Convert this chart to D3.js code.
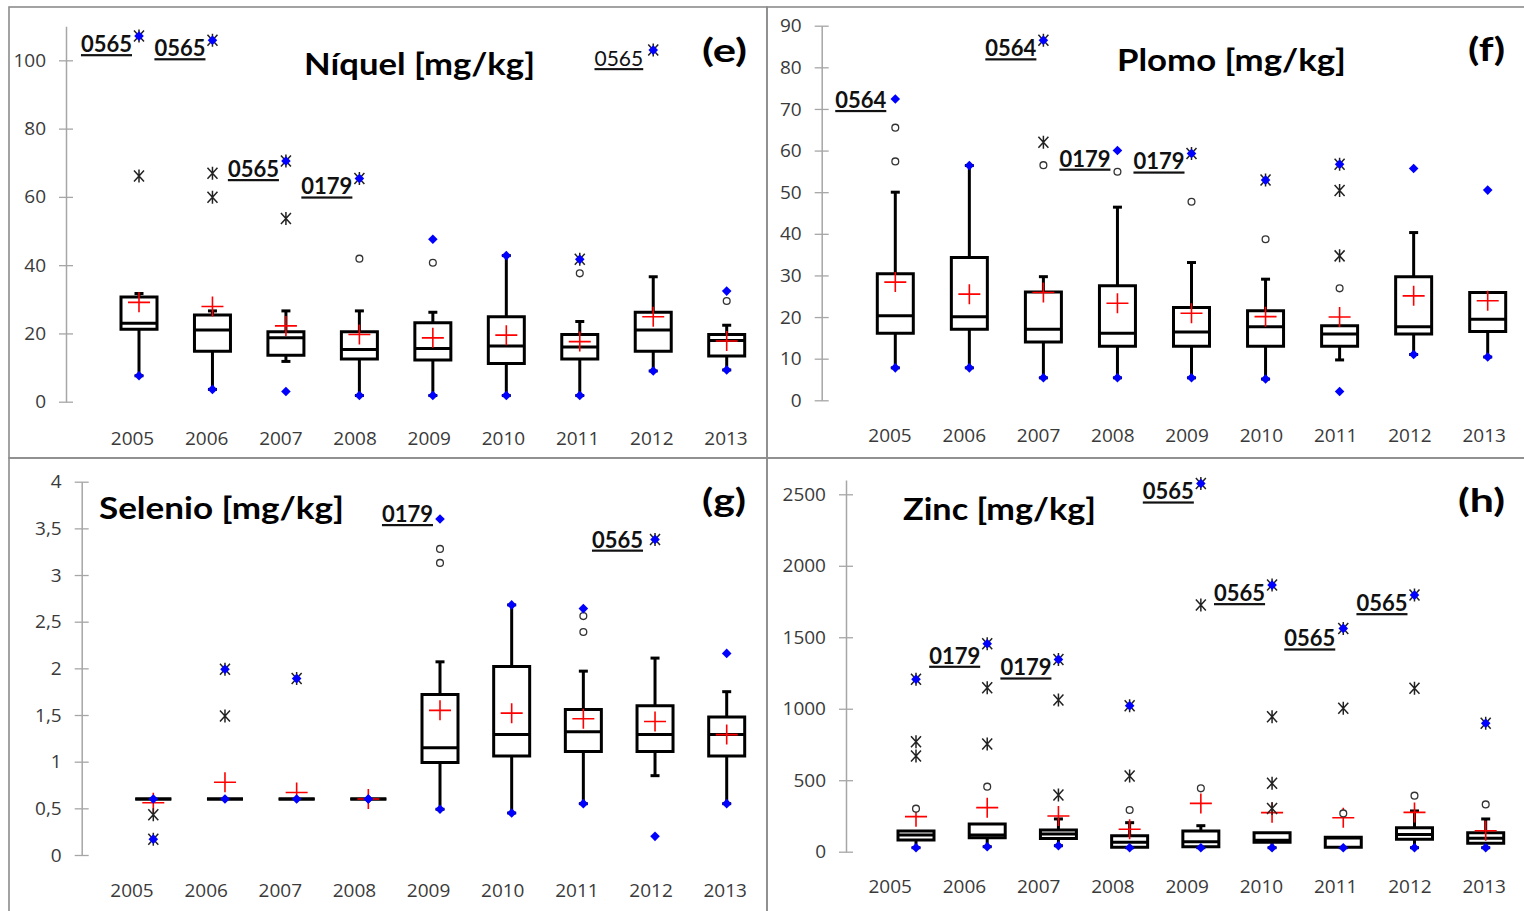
<!DOCTYPE html>
<html>
<head>
<meta charset="utf-8">
<script src="https://cdn.jsdelivr.net/npm/d3@7"></script>
<style>
  body { margin: 0; background: #fff; }
  svg { display: block; }
</style>
</head>
<body>
<svg id="chart" width="1524" height="911"></svg>
<script>
const years = ["2005", "2006", "2007", "2008", "2009", "2010", "2011", "2012", "2013"];

// (e) Níquel
const niqTicks = [0, 20, 40, 60, 80, 100];
const niqQ1 = [21.2, 14.8, 13.6, 12.5, 12.2, 11.2, 12.5, 14.8, 13.4];
const niqMed = [23.0, 21.0, 18.7, 15.3, 15.6, 16.3, 16.0, 21.0, 17.9];
const niqQ3 = [30.7, 25.4, 20.5, 20.5, 23.1, 24.9, 19.7, 26.2, 19.7];
const niqLo = [7.6, 3.6, 11.8, 1.8, 1.8, 1.8, 1.8, 9.0, 9.3];
const niqHi = [31.7, 26.6, 26.6, 26.6, 26.2, 42.8, 23.5, 36.6, 22.4];
const niqMean = [29.1, 27.9, 22.2, 19.7, 18.7, 19.5, 17.6, 24.9, 17.8];
const niqMin = [7.6, 3.6, 3.0, 1.8, 1.8, 1.8, 1.8, 9.0, 9.3];
const niqMax = [107.1, 105.9, 70.5, 65.4, 47.6, 42.8, 41.7, 103, 32.4];
const niqCircles = [["2008", 41.9], ["2009", 40.7], ["2011", 37.6], ["2013", 29.5]];
const niqStars = [["2005", 66.1], ["2005", 107.1], ["2006", 66.9], ["2006", 59.9], ["2006", 105.9],
  ["2007", 53.7], ["2007", 70.5], ["2008", 65.4], ["2011", 41.7], ["2012", 103]];
const niqLabels = [["2005", "0565"], ["2006", "0565"], ["2007", "0565"], ["2008", "0179"], ["2012", "0565"]];

// (f) Plomo
const plTicks = [0, 10, 20, 30, 40, 50, 60, 70, 80, 90];
const plQ1 = [16.1, 17.1, 14.0, 13.0, 13.0, 13.0, 13.0, 15.9, 16.5];
const plMed = [20.3, 20.1, 17.1, 16.1, 16.4, 17.7, 15.9, 17.7, 19.5];
const plQ3 = [30.4, 34.3, 26.0, 27.5, 22.3, 21.5, 17.9, 29.7, 25.9];
const plLo = [7.8, 7.8, 5.4, 5.4, 5.4, 5.1, 9.7, 11.0, 10.4];
const plHi = [50.0, 56.4, 29.7, 46.4, 33.1, 29.1, 17.9, 40.3, 25.9];
const plMean = [28.4, 25.5, 25.9, 23.3, 20.9, 20.1, 20.0, 25.1, 23.9];
const plMin = [7.8, 7.8, 5.4, 5.4, 5.4, 5.1, 2.1, 11.0, 10.4];
const plMax = [72.4, 56.4, 86.5, 60.0, 59.3, 52.9, 56.7, 55.7, 50.5];
const plCircles = [["2005", 65.5], ["2005", 57.4], ["2007", 56.5], ["2008", 54.9], ["2009", 47.7],
  ["2010", 38.7], ["2011", 26.9]];
const plStars = [["2007", 62.0], ["2007", 86.5], ["2009", 59.3], ["2010", 52.9], ["2011", 34.7],
  ["2011", 50.4], ["2011", 56.7]];
const plLabels = [["2005", "0564"], ["2007", "0564"], ["2008", "0179"], ["2009", "0179"]];

// (g) Selenio
const seTicks = [0, 0.5, 1, 1.5, 2, 2.5, 3, 3.5, 4];
const seQ1 = [0.6, 0.6, 0.6, 0.6, 0.99, 1.06, 1.11, 1.11, 1.06];
const seMed = [0.6, 0.6, 0.6, 0.6, 1.15, 1.29, 1.32, 1.29, 1.29];
const seQ3 = [0.6, 0.6, 0.6, 0.6, 1.72, 2.02, 1.56, 1.60, 1.48];
const seLo = [0.6, 0.6, 0.6, 0.6, 0.49, 0.45, 0.55, 0.85, 0.55];
const seHi = [0.6, 0.6, 0.6, 0.6, 2.07, 2.68, 1.97, 2.11, 1.75];
const seMean = [0.56, 0.78, 0.67, 0.6, 1.55, 1.52, 1.46, 1.43, 1.29];
const seMin = [0.17, 0.6, 0.6, 0.6, 0.49, 0.45, 0.55, 0.20, 0.55];
const seMax = [0.6, 1.99, 1.89, 0.6, 3.60, 2.68, 2.64, 3.38, 2.16];
const seCircles = [["2009", 3.28], ["2009", 3.13], ["2011", 2.56], ["2011", 2.39]];
const seStars = [["2005", 0.43], ["2005", 0.17], ["2006", 1.49], ["2006", 1.99], ["2007", 1.89], ["2012", 3.38]];
const seLabels = [["2009", "0179"], ["2012", "0565"]];

// (h) Zinc
const znTicks = [0, 500, 1000, 1500, 2000, 2500];
const znQ1 = [82, 98, 93, 31, 35, 66, 31, 87, 59];
const znMed = [117, 117, 124, 66, 70, 80, 95, 120, 94];
const znQ3 = [145, 194, 152, 112, 145, 133, 101, 168, 133];
const znLo = [28, 35, 42, 28, 28, 28, 28, 28, 28];
const znHi = [145, 194, 229, 203, 182, 133, 101, 285, 229];
const znMean = [245, 308, 250, 157, 338, 273, 238, 275, 147];
const znMin = [28, 35, 42, 28, 28, 28, 28, 28, 28];
const znMax = [1206, 1455, 1345, 1021, 2576, 1865, 1562, 1795, 898];
const znCircles = [["2005", 301], ["2006", 455], ["2008", 292], ["2009", 443], ["2011", 268],
  ["2012", 392], ["2013", 331]];
const znStars = [["2005", 769], ["2005", 669], ["2005", 1206], ["2006", 753], ["2006", 1147], ["2006", 1455],
  ["2007", 396], ["2007", 1061], ["2007", 1345], ["2008", 529], ["2008", 1021], ["2009", 1725], ["2009", 2576],
  ["2010", 303], ["2010", 478], ["2010", 944], ["2010", 1865], ["2011", 1003], ["2011", 1562],
  ["2012", 1143], ["2012", 1795], ["2013", 898]];
const znLabels = [["2006", "0179"], ["2007", "0179"], ["2009", "0565"], ["2010", "0565"], ["2011", "0565"], ["2012", "0565"]];

const comma = v => String(v).replace(".", ",");

const panels = [
  { key: "e", title: "Níquel [mg/kg]", tag: "(e)", ticks: niqTicks, yMax: 110, fmt: String,
    q1: niqQ1, med: niqMed, q3: niqQ3, lo: niqLo, hi: niqHi, mean: niqMean, min: niqMin, max: niqMax,
    circles: niqCircles, stars: niqStars, labels: niqLabels,
    frame: [9, 7, 758, 451], axisX: 66, yRange: [401.7, 26.2], box: [139, 726.7], cat: [132, 725.5], catY: 445,
    titlePos: [304, 75, 231], tagPos: [747, 62, 45] },
  { key: "f", title: "Plomo [mg/kg]", tag: "(f)", ticks: plTicks, yMax: 90, fmt: String,
    q1: plQ1, med: plMed, q3: plQ3, lo: plLo, hi: plHi, mean: plMean, min: plMin, max: plMax,
    circles: plCircles, stars: plStars, labels: plLabels,
    frame: [767, 7, 770, 451], axisX: 821.7, yRange: [400.3, 25.7], box: [895.3, 1487.7], cat: [889.5, 1483.7], catY: 441.7,
    titlePos: [1117, 71, 229], tagPos: [1505, 61, 37] },
  { key: "g", title: "Selenio [mg/kg]", tag: "(g)", ticks: seTicks, yMax: 4, fmt: comma,
    q1: seQ1, med: seMed, q3: seQ3, lo: seLo, hi: seHi, mean: seMean, min: seMin, max: seMax,
    circles: seCircles, stars: seStars, labels: seLabels,
    frame: [9, 458, 758, 470], axisX: 81.7, yRange: [855, 481.7], box: [153.3, 726.7], cat: [131.5, 724.7], catY: 896.7,
    titlePos: [99, 519, 245], tagPos: [746, 512, 44] },
  { key: "h", title: "Zinc [mg/kg]", tag: "(h)", ticks: znTicks, yMax: 2600, fmt: String,
    q1: znQ1, med: znMed, q3: znQ3, lo: znLo, hi: znHi, mean: znMean, min: znMin, max: znMax,
    circles: znCircles, stars: znStars, labels: znLabels,
    frame: [767, 458, 770, 470], axisX: 846, yRange: [851.7, 480.0], box: [916, 1485.7], cat: [889.7, 1483.7], catY: 893.3,
    titlePos: [903, 520, 193], tagPos: [1505, 512, 47] }
];

// label placement tweaks (relative to the marked point)
const labelNudge = { "f-2005": [-9, 9], "g-2009": [-7, 3], "g-2012": [-12, 8], "e-2012": [-10, 16], "h-2006": [-7, 20], "h-2011": [-8, 18] };
const plainLabels = new Set(["e-2012"]);

const svg = d3.select("#chart");

const starPath = "M0,-6.5V6.5M-5,-5.5L5,5.5M-5,5.5L5,-5.5";
const diamondPath = "M0,-4.8L4.8,0L0,4.8L-4.8,0Z";
const boxW = 36, capW = 9;

panels.forEach(p => {
  const g = svg.append("g").attr("class", "panel-" + p.key);

  g.append("rect")
    .attr("x", p.frame[0]).attr("y", p.frame[1])
    .attr("width", p.frame[2]).attr("height", p.frame[3])
    .attr("fill", "none").attr("stroke", "#8c8c8c").attr("stroke-width", 1.6);

  const y = d3.scaleLinear().domain([0, p.yMax]).range(p.yRange);
  const xBox = d3.scalePoint().domain(years).range(p.box);
  const xCat = d3.scalePoint().domain(years).range(p.cat);

  // y axis with cross ticks
  const yAxis = g.append("g")
    .attr("transform", `translate(${p.axisX},0)`)
    .call(d3.axisLeft(y).tickValues(p.ticks).tickFormat(p.fmt).tickSize(7).tickSizeOuter(0).tickPadding(13));
  yAxis.select(".domain").attr("stroke", "#a6a6a6").attr("stroke-width", 1.5);
  yAxis.selectAll(".tick line").attr("x1", 7).attr("stroke", "#a6a6a6").attr("stroke-width", 1.3);
  yAxis.selectAll(".tick text")
    .attr("font-family", "'Open Sans', sans-serif").attr("font-size", 19).attr("fill", "#3a3a3a");

  // category axis (labels only)
  const xAxis = g.append("g")
    .attr("transform", `translate(0,${p.catY})`)
    .call(d3.axisBottom(xCat).tickSize(0).tickPadding(0));
  xAxis.select(".domain").remove();
  xAxis.selectAll(".tick text")
    .attr("y", 0).attr("dy", 0)
    .attr("font-family", "'Open Sans', sans-serif").attr("font-size", 19).attr("fill", "#3a3a3a");

  const rows = years.map((yr, i) => ({ yr, q1: p.q1[i], med: p.med[i], q3: p.q3[i], lo: p.lo[i], hi: p.hi[i],
    mean: p.mean[i], min: p.min[i], max: p.max[i] }));

  const marks = g.append("g");

  // whiskers
  rows.forEach(r => {
    const cx = xBox(r.yr);
    if (r.lo < r.q1) {
      marks.append("line").attr("x1", cx).attr("x2", cx).attr("y1", y(r.q1)).attr("y2", y(r.lo))
        .attr("stroke", "#000").attr("stroke-width", 3);
      marks.append("line").attr("x1", cx - capW / 2).attr("x2", cx + capW / 2).attr("y1", y(r.lo)).attr("y2", y(r.lo))
        .attr("stroke", "#000").attr("stroke-width", 3);
    }
    if (r.hi > r.q3) {
      marks.append("line").attr("x1", cx).attr("x2", cx).attr("y1", y(r.q3)).attr("y2", y(r.hi))
        .attr("stroke", "#000").attr("stroke-width", 3);
      marks.append("line").attr("x1", cx - capW / 2).attr("x2", cx + capW / 2).attr("y1", y(r.hi)).attr("y2", y(r.hi))
        .attr("stroke", "#000").attr("stroke-width", 3);
    }
  });

  // boxes
  marks.selectAll("path.box").data(rows).join("path")
    .attr("class", "box")
    .attr("d", r => {
      const x0 = xBox(r.yr) - boxW / 2, x1 = xBox(r.yr) + boxW / 2;
      return `M${x0},${y(r.q3)}H${x1}V${y(r.q1)}H${x0}Z`;
    })
    .attr("fill", "#fff").attr("stroke", "#000").attr("stroke-width", 3).attr("stroke-linejoin", "miter");

  marks.selectAll("line.median").data(rows).join("line")
    .attr("class", "median")
    .attr("x1", r => xBox(r.yr) - boxW / 2).attr("x2", r => xBox(r.yr) + boxW / 2)
    .attr("y1", r => y(r.med)).attr("y2", r => y(r.med))
    .attr("stroke", "#000").attr("stroke-width", 3);

  // means
  marks.selectAll("path.mean").data(rows).join("path")
    .attr("class", "mean")
    .attr("transform", r => `translate(${xBox(r.yr)},${y(r.mean)})`)
    .attr("d", "M-11,0H11M0,-10V10")
    .attr("stroke", "#ff0000").attr("stroke-width", 1.6).attr("fill", "none");

  // mild outliers
  marks.selectAll("circle.out").data(p.circles).join("circle")
    .attr("class", "out")
    .attr("cx", d => xBox(d[0])).attr("cy", d => y(d[1])).attr("r", 3.4)
    .attr("fill", "#fff").attr("stroke", "#333").attr("stroke-width", 1.3);

  // extreme outliers
  marks.selectAll("path.star").data(p.stars).join("path")
    .attr("class", "star")
    .attr("transform", d => `translate(${xBox(d[0])},${y(d[1])})`)
    .attr("d", starPath)
    .attr("stroke", "#222").attr("stroke-width", 1.5).attr("fill", "none");

  // min / max
  const extremes = rows.flatMap(r => [[r.yr, r.min], [r.yr, r.max]]);
  marks.selectAll("path.mm").data(extremes).join("path")
    .attr("class", "mm")
    .attr("transform", d => `translate(${xBox(d[0])},${y(d[1])})`)
    .attr("d", diamondPath)
    .attr("fill", "#0000ff");

  // sample id labels on the maxima
  marks.selectAll("text.id").data(p.labels).join("text")
    .attr("class", "id")
    .each(function (d) {
      const k = p.key + "-" + d[0];
      const n = labelNudge[k] || [-7, 16];
      const i = years.indexOf(d[0]);
      d3.select(this)
        .attr("x", xBox(d[0]) + n[0])
        .attr("y", y(p.max[i]) + n[1])
        .attr("font-weight", plainLabels.has(k) ? 400 : 700)
        .attr("font-size", plainLabels.has(k) ? 21 : 22);
    })
    .attr("text-anchor", "end")
    .attr("font-family", "Lato, sans-serif")
    .attr("text-decoration", "underline")
    .attr("fill", "#111")
    .text(d => d[1]);

  // title and panel tag
  g.append("text")
    .attr("x", p.titlePos[0]).attr("y", p.titlePos[1])
    .attr("textLength", p.titlePos[2]).attr("lengthAdjust", "spacingAndGlyphs")
    .attr("font-family", "Lato, sans-serif").attr("font-weight", 700).attr("font-size", 30)
    .attr("fill", "#000")
    .text(p.title);

  g.append("text")
    .attr("x", p.tagPos[0] - p.tagPos[2]).attr("y", p.tagPos[1])
    .attr("textLength", p.tagPos[2]).attr("lengthAdjust", "spacingAndGlyphs")
    .attr("font-family", "Lato, sans-serif").attr("font-weight", 700).attr("font-size", 33)
    .attr("fill", "#000")
    .text(p.tag);
});
</script>
</body>
</html>
